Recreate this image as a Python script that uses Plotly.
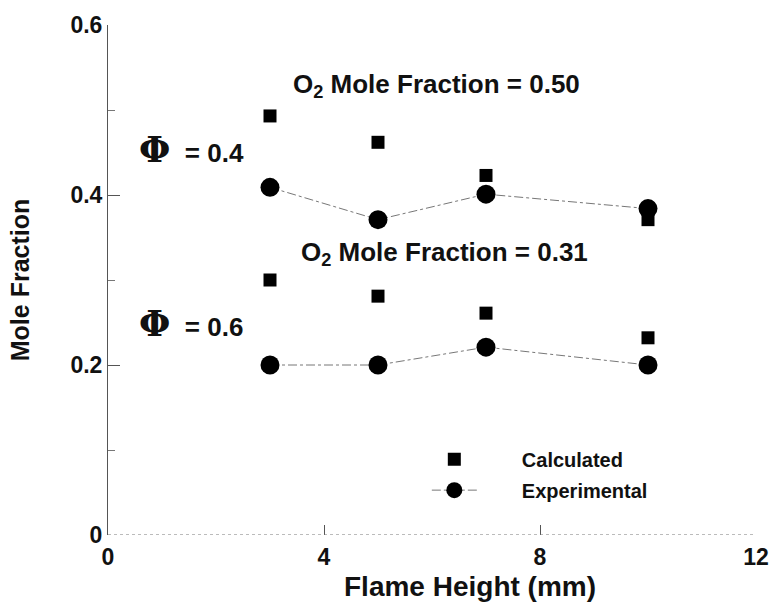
import plotly.graph_objects as go

heights = [3, 5, 7, 10]
calc_050 = [0.493, 0.462, 0.423, 0.371]
exp_050 = [0.409, 0.371, 0.401, 0.384]
calc_031 = [0.300, 0.281, 0.261, 0.232]
exp_031 = [0.200, 0.200, 0.221, 0.200]

x_ticks = [0, 4, 8, 12]
y_ticks = [0, 0.2, 0.4, 0.6]
y_tick_labels = ["0", "0.2", "0.4", "0.6"]

FONT = "Liberation Sans, Arial, sans-serif"
INK = "#111"
fig = go.Figure()

line_style = dict(color="#777", width=1, dash="dashdot")
circ = dict(symbol="circle", size=19, color="black")
sq = dict(symbol="square", size=13, color="black")

fig.add_trace(go.Scatter(x=heights, y=calc_050, mode="markers", marker=sq,
                         name="\u2003\u2003Calculated", legendgroup="c", showlegend=True,
                         legendrank=1))
fig.add_trace(go.Scatter(x=heights, y=calc_031, mode="markers", marker=sq,
                         name="Calculated", legendgroup="c", showlegend=False))
fig.add_trace(go.Scatter(x=heights, y=exp_050, mode="lines+markers", line=line_style,
                         marker=circ, name="\u2003\u2003Experimental", legendgroup="e",
                         showlegend=True, legendrank=2))
fig.add_trace(go.Scatter(x=heights, y=exp_031, mode="lines+markers", line=line_style,
                         marker=circ, name="Experimental", legendgroup="e", showlegend=False))

phi = '<span style="font-family:DejaVu Serif;font-size:36px;font-weight:bold">Φ</span>'
annos = [
    dict(x=6.09, y=0.529, text="O<sub>2</sub> Mole Fraction = 0.50", xanchor="center"),
    dict(x=6.24, y=0.331, text="O<sub>2</sub> Mole Fraction = 0.31", xanchor="center"),
    dict(x=0.53, y=0.454, text=phi + "  = 0.4", xanchor="left"),
    dict(x=0.53, y=0.250, text=phi + "  = 0.6", xanchor="left"),
]
for a in annos:
    fig.add_annotation(**a, showarrow=False, yanchor="middle",
                       font=dict(family=FONT, size=26, color=INK, weight="bold"))

# x-axis title (placed as in the reference, right of centre)
fig.add_annotation(x=0.558, y=-0.101, xref="paper", yref="paper", text="Flame Height (mm)",
                   showarrow=False, xanchor="center", yanchor="middle",
                   font=dict(family=FONT, size=28, color=INK, weight="bold"))

# dotted bottom axis line
fig.add_shape(type="line", xref="x", yref="y", x0=0, x1=12, y0=0, y1=0,
              line=dict(color="#777", width=1, dash="dot"))

fig.update_layout(
    width=781, height=605,
    margin=dict(l=108, r=17, t=22, b=70),
    paper_bgcolor="white", plot_bgcolor="white",
    font=dict(family=FONT, size=18, color=INK, weight="bold"),
    showlegend=True,
    legend=dict(x=0.492, y=0.187, xanchor="left", yanchor="top",
                bgcolor="rgba(0,0,0,0)", font=dict(size=20, color=INK, weight="bold"),
                itemwidth=45, tracegroupgap=2),
    xaxis=dict(range=[0, 12], tickvals=x_ticks, ticks="inside", ticklen=10,
               tickcolor="#555", showgrid=False, zeroline=False, showline=False,
               ticklabelstandoff=6,
               tickfont=dict(size=23, weight="bold")),
    yaxis=dict(range=[0, 0.6], tickvals=y_ticks, ticktext=y_tick_labels, ticks="inside",
               ticklen=12, tickcolor="#555", showgrid=False, zeroline=False,
               showline=True, linecolor="#555", linewidth=1,
               minor=dict(tickvals=[0.1, 0.3, 0.5], ticks="inside", ticklen=7, tickcolor="#777"),
               title=dict(text="Mole Fraction", font=dict(size=25, weight="bold"), standoff=33),
               tickfont=dict(size=23, weight="bold")),
)

fig.write_html("out.html")
